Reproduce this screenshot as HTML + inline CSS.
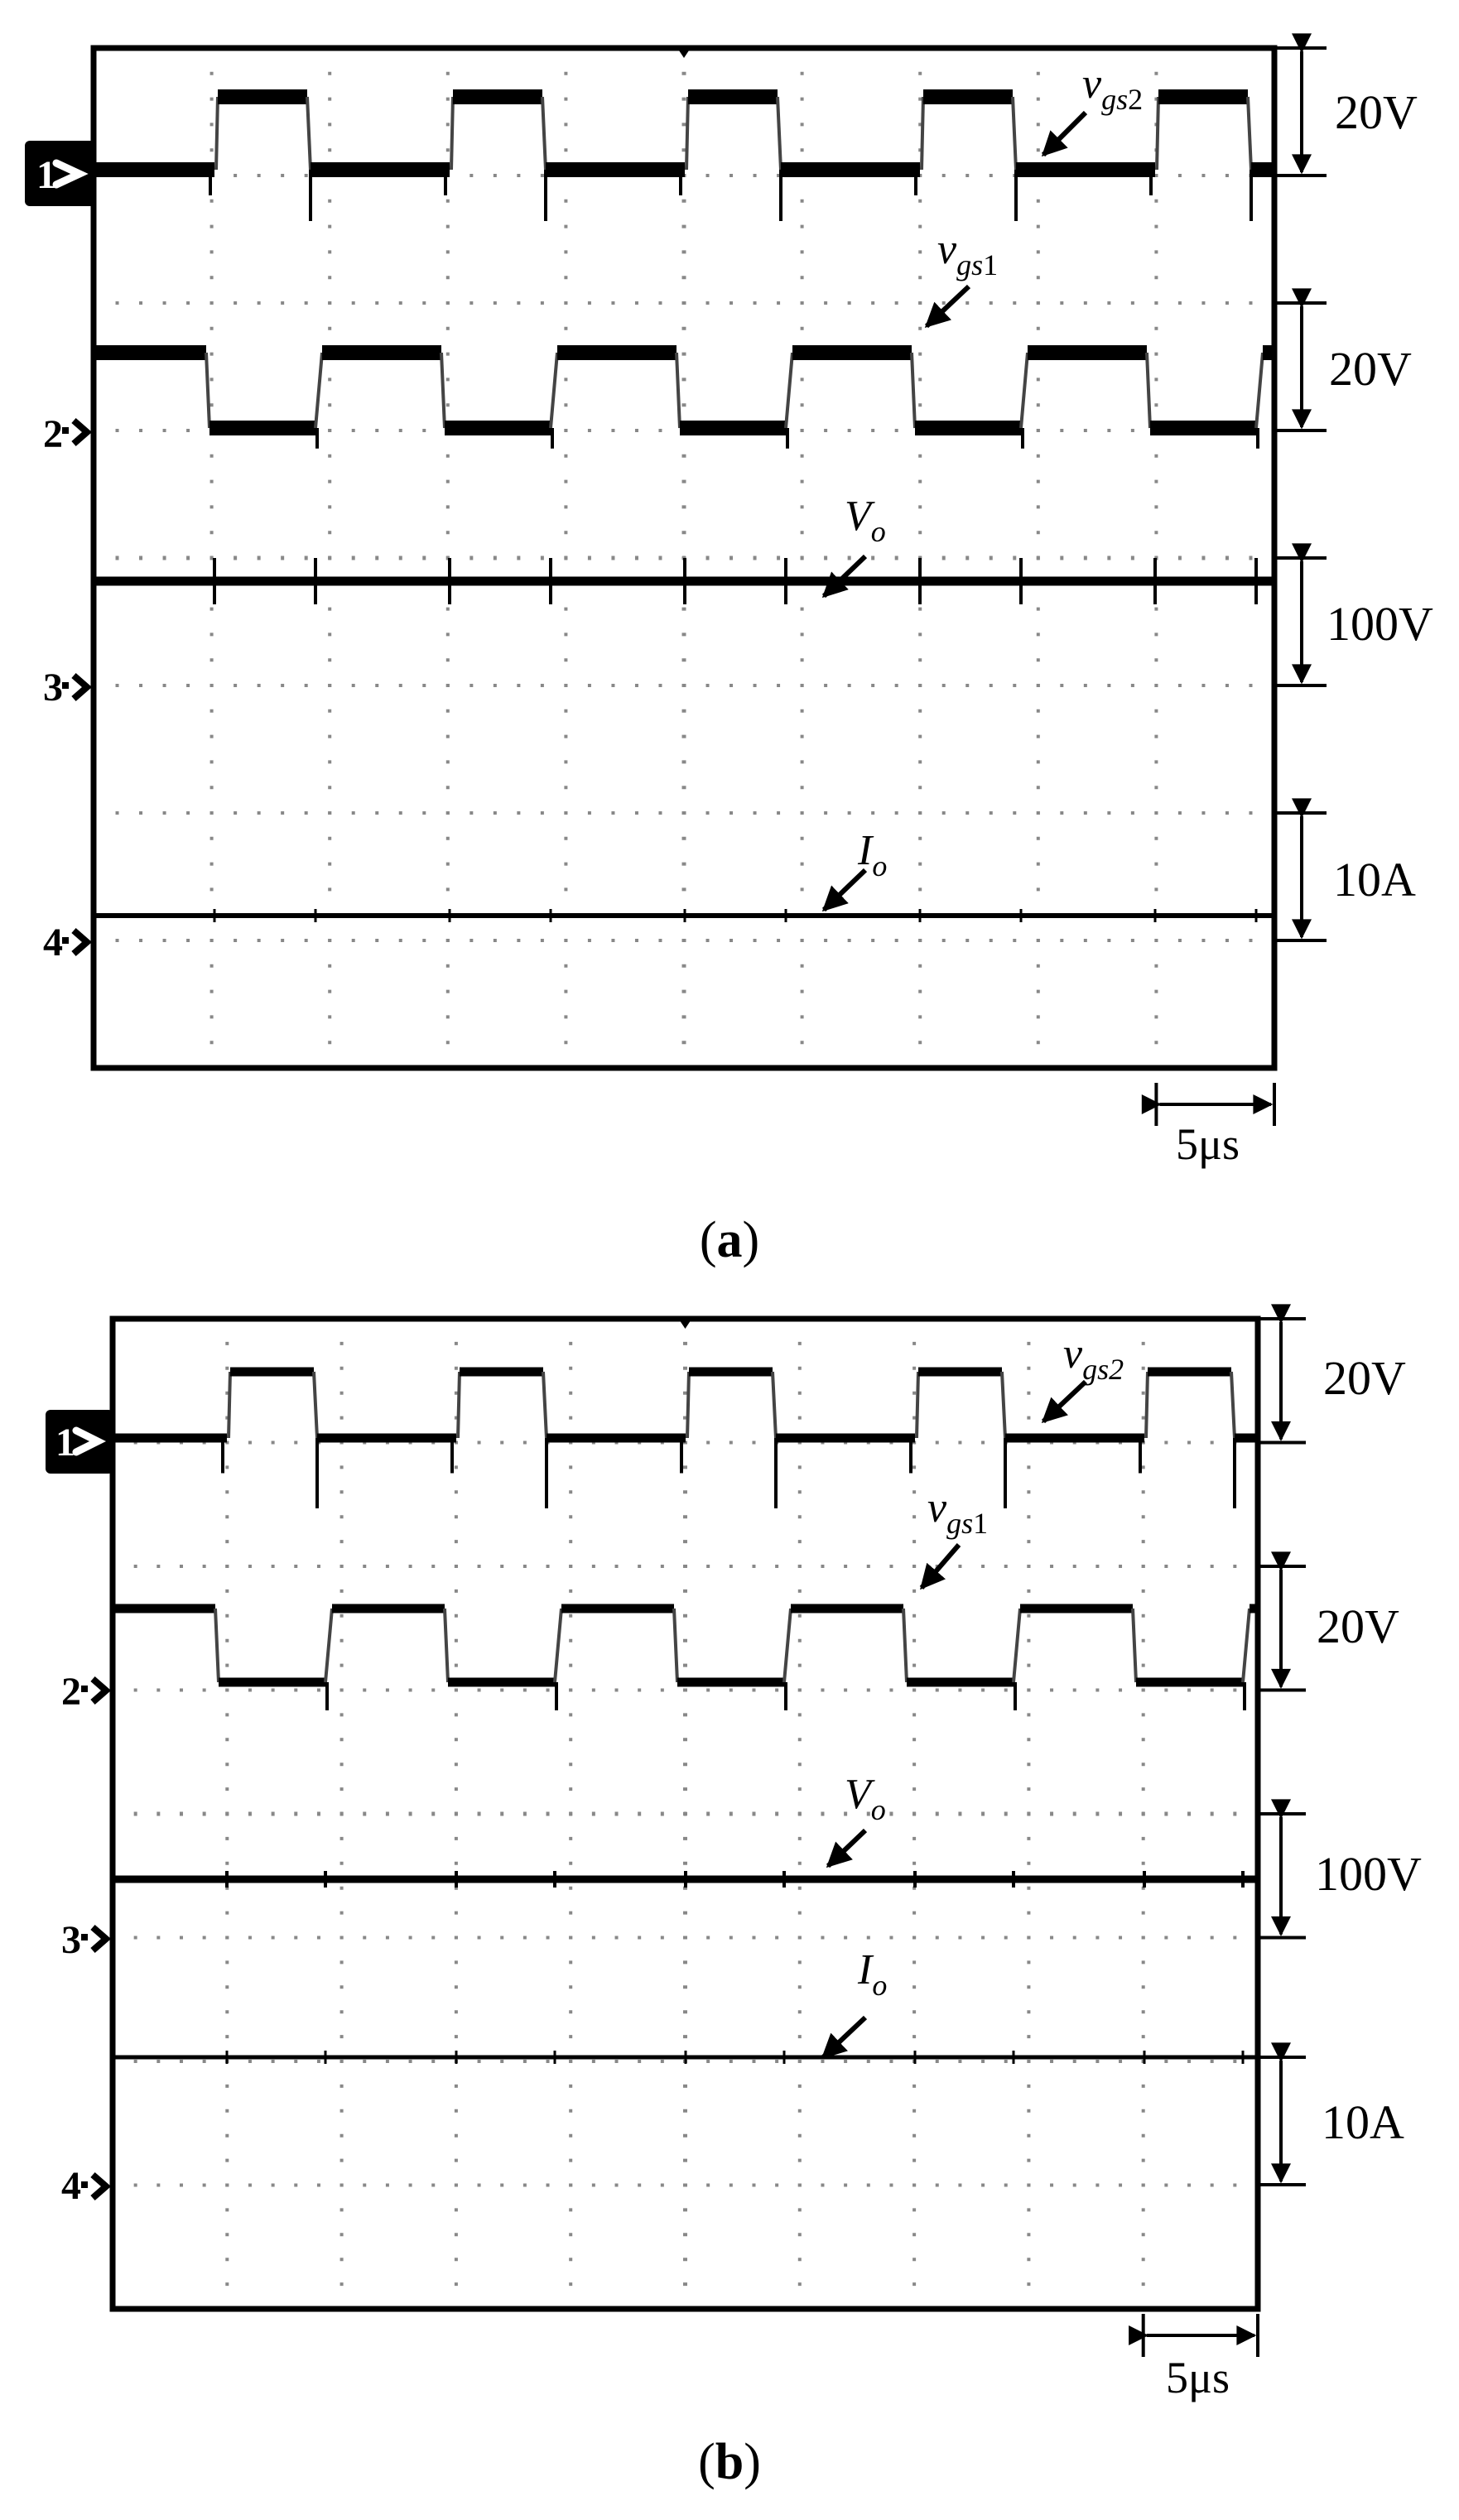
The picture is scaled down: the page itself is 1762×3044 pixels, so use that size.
<!DOCTYPE html>
<html><head><meta charset="utf-8"><style>
html,body{margin:0;padding:0;background:#fff;}
svg{display:block;}
text{font-family:"Liberation Serif",serif;}
</style></head><body>
<svg id="s" width="1762" height="3044" viewBox="0 0 1762 3044" xmlns="http://www.w3.org/2000/svg">
<g id="dyn"></g>
<defs>
<marker id="ah" viewBox="0 0 10 10" refX="9" refY="5" markerWidth="8" markerHeight="6" orient="auto" markerUnits="strokeWidth"><path d="M0,0 L10,5 L0,10 z" fill="#000"/></marker>
<marker id="ap" viewBox="0 0 10 10" refX="9" refY="5" markerWidth="5" markerHeight="5" orient="auto" markerUnits="strokeWidth"><path d="M0,0 L10,5 L0,10 z" fill="#000"/></marker>
</defs>
<!-- channel markers (a) -->
<rect x="30" y="170" width="86" height="79" rx="6" fill="#000"/>
<text x="44" y="227" font-size="48" font-weight="bold" fill="#fff">1</text>
<path d="M68,197 L96,210 L68,223" stroke="#fff" stroke-width="9" fill="none" stroke-linecap="round"/>
<text x="52" y="540" font-size="48" font-weight="bold">2</text>
<text x="52" y="846" font-size="48" font-weight="bold">3</text>
<text x="52" y="1154" font-size="48" font-weight="bold">4</text>
<!-- channel markers (b) -->
<rect x="55" y="1703" width="82" height="77" rx="6" fill="#000"/>
<text x="67" y="1758" font-size="48" font-weight="bold" fill="#fff">1</text>
<path d="M92,1728 L118,1741 L92,1754" stroke="#fff" stroke-width="9" fill="none" stroke-linecap="round"/>
<text x="74" y="2059" font-size="48" font-weight="bold">2</text>
<text x="74" y="2359" font-size="48" font-weight="bold">3</text>
<text x="74" y="2656" font-size="48" font-weight="bold">4</text>
<!-- scale labels (a) -->
<text x="1612" y="155" font-size="58">20V</text>
<text x="1605" y="465" font-size="58">20V</text>
<text x="1602" y="773" font-size="58">100V</text>
<text x="1610" y="1082" font-size="58">10A</text>
<text x="1420" y="1400" font-size="54">5μs</text>
<text x="881" y="1518" font-size="62" text-anchor="middle">(<tspan font-weight="bold">a</tspan>)</text>
<!-- scale labels (b) -->
<text x="1598" y="1684" font-size="58">20V</text>
<text x="1590" y="1984" font-size="58">20V</text>
<text x="1588" y="2283" font-size="58">100V</text>
<text x="1596" y="2583" font-size="58">10A</text>
<text x="1408" y="2890" font-size="54">5μs</text>
<text x="881" y="2994" font-size="62" text-anchor="middle">(<tspan font-weight="bold">b</tspan>)</text>
<!-- signal labels (a) -->
<text x="1307" y="118" font-size="52" font-style="italic">v<tspan font-size="36" dy="14">gs</tspan><tspan font-size="36" font-style="normal">2</tspan></text>
<text x="1132" y="318" font-size="52" font-style="italic">v<tspan font-size="36" dy="14">gs</tspan><tspan font-size="36" font-style="normal">1</tspan></text>
<text x="1020" y="640" font-size="52" font-style="italic">V<tspan font-size="36" dy="14">o</tspan></text>
<text x="1036" y="1044" font-size="52" font-style="italic">I<tspan font-size="36" dy="14">o</tspan></text>
<!-- signal labels (b) -->
<text x="1284" y="1652" font-size="52" font-style="italic">v<tspan font-size="36" dy="14">gs2</tspan></text>
<text x="1120" y="1838" font-size="52" font-style="italic">v<tspan font-size="36" dy="14">gs</tspan><tspan font-size="36" font-style="normal">1</tspan></text>
<text x="1020" y="2184" font-size="52" font-style="italic">V<tspan font-size="36" dy="14">o</tspan></text>
<text x="1036" y="2396" font-size="52" font-style="italic">I<tspan font-size="36" dy="14">o</tspan></text>
</svg>
<script>
(function(){
var g=document.getElementById('dyn'),NS='http://www.w3.org/2000/svg';
function el(t,a){var e=document.createElementNS(NS,t);for(var k in a)e.setAttribute(k,a[k]);g.appendChild(e);return e;}
function line(x1,y1,x2,y2,w,c,extra){var a={x1:x1,y1:y1,x2:x2,y2:y2,stroke:c||'#000','stroke-width':w};if(extra)for(var k in extra)a[k]=extra[k];return el('line',a);}
function panel(P){
  var L=P.L,R=P.R,T=P.T,B=P.B,dx=(R-L)/10,dy=(B-T)/8;
  for(var i=1;i<10;i++){var x=L+dx*i;line(x,T,x,B,i==5?5:4,'#888',{'stroke-dasharray':'4 '+(dy/5-4).toFixed(2),'stroke-dashoffset':'2'});}
  for(var j=1;j<8;j++){var y=T+dy*j;line(L,y,R,y,j==4?5:4,'#888',{'stroke-dasharray':'4 '+(dx/5-4).toFixed(2),'stroke-dashoffset':'2'});}
  // ch1
  var x0=L;
  for(var k=0;k<5;k++){var r=P.r1+P.per*k,f=r+P.hw1;
    line(x0,P.c1b,r,P.c1b,P.w);line(r+2,P.c1b,r+4,P.c1h,4,'#444');
    line(r+4,P.c1h,f,P.c1h,P.w);line(f,P.c1h,f+4,P.c1b,4,'#444');
    line(f+4,P.c1b,f+4,P.c1b+P.sp,4);line(r-5,P.c1b,r-5,P.c1b+P.sp*0.5,4);
    x0=f+4;}
  line(x0,P.c1b,R,P.c1b,P.w);
  // ch2
  x0=L;
  for(var k=0;k<5;k++){var f=P.f2+P.per*k,r=f+P.lw2;
    line(x0,P.c2h,f,P.c2h,P.w);line(f,P.c2h,f+4,P.c2l,4,'#444');
    line(f+4,P.c2l,r,P.c2l,P.w);line(r,P.c2l,r+8,P.c2h,4,'#444');
    line(r+2,P.c2l,r+2,P.c2l+P.sp*0.4,4);
    x0=r+8;}
  if(x0<R)line(x0,P.c2h,R,P.c2h,P.w);
  line(L,P.c3,R,P.c3,P.w3);
  line(L,P.c4,R,P.c4,P.w4);
  for(var k=0;k<5;k++){[P.r1+P.per*k,P.f2+P.per*k+P.lw2].forEach(function(x){line(x,P.c3-P.s3,x,P.c3+P.s3,4);line(x,P.c4-8,x,P.c4+8,3);});}
  el('rect',{x:L,y:T,width:R-L,height:B-T,fill:'none',stroke:'#000','stroke-width':7});
  el('path',{d:'M'+(L+(R-L)/2-8)+','+T+' L'+(L+(R-L)/2+8)+','+T+' L'+(L+(R-L)/2)+','+(T+12)+'z',fill:'#000'});
  var ax=P.ax;
  [[T,T+dy],[T+2*dy,T+3*dy],[T+4*dy,T+5*dy],[T+6*dy,T+7*dy]].forEach(function(s,i){
    var a=s[0],b=s[1];if(P.last&&i==3){a=P.last[0];b=P.last[1];}
    line(R,a,ax+30,a,4);line(R,b,ax+30,b,4);
    line(ax,a+4,ax,b-4,4,'#000',{'marker-start':'url(#ah)','marker-end':'url(#ah)'});
  });
  line(R-dx,P.by-26,R-dx,P.by+26,4);line(R,P.by-26,R,P.by+26,4);
  line(R-dx+4,P.by,R-4,P.by,4,'#000',{'marker-start':'url(#ah)','marker-end':'url(#ah)'});
  P.marks.forEach(function(y){el('path',{d:'M'+(L-38)+','+(y-2)+' L'+(L-30)+','+(y-2)+' M'+(L-24)+','+(y-14)+' L'+(L-8)+','+y+' L'+(L-24)+','+(y+14),stroke:'#000','stroke-width':8,fill:'none'});});
  P.ptr.forEach(function(p){line(p[0],p[1],p[2],p[3],6,'#000',{'marker-end':'url(#ap)'});});
}
panel({L:113,R:1539,T:58,B:1290,r1:259,hw1:112,per:284,c1b:205,c1h:117,f2:249,lw2:132,c2h:426,c2l:517,
  c3:702,c4:1106,w:18,w3:11,w4:6,sp:62,s3:28,ax:1572,by:1334,
  marks:[522,830,1138],
  ptr:[[1311,136,1260,187],[1170,346,1119,394],[1045,672,995,720],[1045,1051,995,1099]]});
panel({L:136,R:1519,T:1593,B:2789,r1:274,hw1:105,per:277,c1b:1737,c1h:1657,f2:260,lw2:133,c2h:1943,c2l:2032,
  c3:2270,c4:2485,w:11,w3:9,w4:5,sp:85,s3:10,ax:1547,by:2821,
  last:[2485,2639],
  marks:[2042,2342,2641],
  ptr:[[1311,1669,1260,1717],[1158,1866,1113,1918],[1045,2211,1000,2254],[1045,2437,994,2485]]});
})();
</script>
</body></html>
